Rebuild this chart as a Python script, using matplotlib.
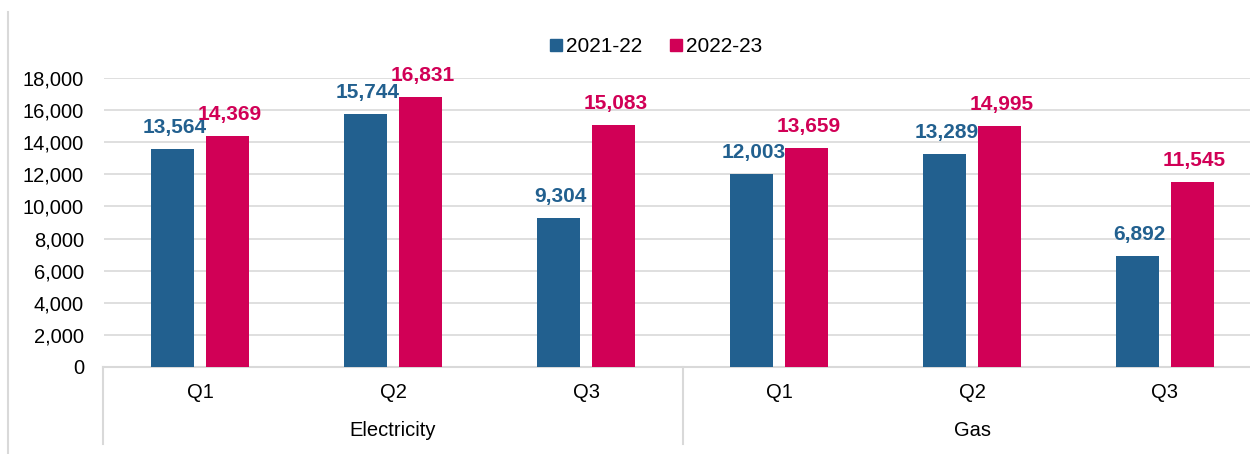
import matplotlib
matplotlib.use("Agg")
import matplotlib.pyplot as plt
from matplotlib.lines import Line2D
import matplotlib.transforms as mtransforms

plt.rcParams['font.family'] = ['Liberation Sans', 'DejaVu Sans']

groups = ["Electricity", "Gas"]
quarters = ["Q1", "Q2", "Q3", "Q1", "Q2", "Q3"]
series_names = ["2021-22", "2022-23"]
values_2021 = [13564, 15744, 9304, 12003, 13289, 6892]
values_2022 = [14369, 16831, 15083, 13659, 14995, 11545]
yticks = [0, 2000, 4000, 6000, 8000, 10000, 12000, 14000, 16000, 18000]

blue = "#22608F"
pink = "#D10056"
grid_c = "#D9D9D9"

fig = plt.figure(figsize=(12.5, 4.54), dpi=100)
ax = fig.add_axes([103.5/1250, 87/454, 6*193/1250, 289/454])

n = len(quarters)
xs = list(range(n))
off = 0.1425
w = 0.223
ax.bar([x - off for x in xs], values_2021, width=w, color=blue, zorder=3)
ax.bar([x + off for x in xs], values_2022, width=w, color=pink, zorder=3)

for x, v in zip(xs, values_2021):
    ax.annotate(f"{v:,}", (x - off + 0.01, v), xytext=(0, 11.5), textcoords="offset points",
                ha="center", va="baseline", fontsize=15, fontweight="bold", color=blue, zorder=5)
for x, v in zip(xs, values_2022):
    ax.annotate(f"{v:,}", (x + off + 0.01, v), xytext=(0, 11.5), textcoords="offset points",
                ha="center", va="baseline", fontsize=15, fontweight="bold", color=pink, zorder=5)

ax.set_xlim(-0.5, n - 0.5)
ax.set_ylim(0, 18000)
ax.set_yticks(yticks)
ax.set_yticklabels([f"{t:,}" for t in yticks], fontsize=14.5)
ax.tick_params(axis="y", length=0, pad=14)
ax.set_xticks([])
ax.yaxis.grid(True, color=grid_c, linewidth=1.2, zorder=0)
ax.set_axisbelow(True)
for s in ["top", "right", "left"]:
    ax.spines[s].set_visible(False)
ax.spines["bottom"].set_color(grid_c)
ax.spines["bottom"].set_linewidth(1.5)

trans = mtransforms.blended_transform_factory(ax.transData, ax.transAxes)
for x, q in zip(xs, quarters):
    ax.text(x, -0.088, q, transform=trans, ha="center", va="center", fontsize=14.5)
for gi, g in enumerate(groups):
    ax.text(gi * 3 + 1, -0.218, g, transform=trans, ha="center", va="center", fontsize=14.5)
for xb in [-0.5, 2.5, 5.5]:
    ax.add_line(Line2D([xb, xb], [0, -0.266], transform=trans, color=grid_c,
                       linewidth=1.5, clip_on=False))

# outer chart frame (left edge)
fig.add_artist(Line2D([8/1250, 8/1250], [0, 1 - 12/454], transform=fig.transFigure,
                      color=grid_c, linewidth=1.5))

handles = [Line2D([], [], marker="s", linestyle="none", markersize=8, color=blue),
           Line2D([], [], marker="s", linestyle="none", markersize=8, color=pink)]
fig.legend(handles, series_names, loc="center", bbox_to_anchor=(655/1250, 1 - 47/454),
           ncol=2, frameon=False, fontsize=15, handletextpad=0.1, columnspacing=1.2,
           handlelength=0.8)

fig.savefig("out.png", dpi=100)
